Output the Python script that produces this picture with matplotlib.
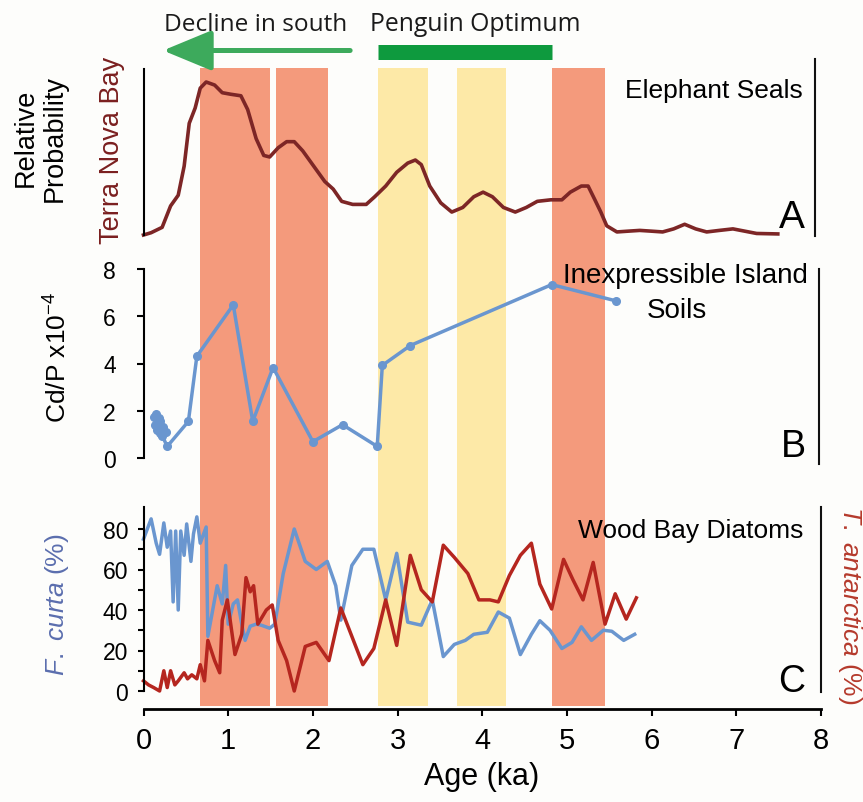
import matplotlib
matplotlib.use("Agg")
import matplotlib.pyplot as plt
from matplotlib.lines import Line2D
from matplotlib.transforms import blended_transform_factory

plt.rcParams['font.family'] = ['Liberation Sans', 'DejaVu Sans']
plt.rcParams['mathtext.fontset'] = 'custom'
plt.rcParams['mathtext.rm'] = 'Liberation Sans'
plt.rcParams['mathtext.it'] = 'Liberation Sans:italic'

# --- datos ---
# bandas (ka)
bandas_rojas = [(0.67, 1.49), (1.57, 2.18), (4.82, 5.45)]
bandas_amarillas = [(2.77, 3.36), (3.70, 4.28)]

# A: Terra Nova Bay, elephant seals (probabilidad relativa)
seal_x = [0.0, 0.09, 0.22, 0.32, 0.41, 0.48, 0.54, 0.61, 0.67, 0.74, 0.84, 0.93, 1.03, 1.15, 1.23,
          1.33, 1.42, 1.49, 1.59, 1.69, 1.78, 1.88, 2.01, 2.14, 2.24, 2.34, 2.47, 2.63, 2.73, 2.86,
          2.99, 3.12, 3.21, 3.28, 3.38, 3.51, 3.64, 3.77, 3.90, 4.01, 4.12, 4.25, 4.39, 4.52, 4.65,
          4.81, 4.94, 5.04, 5.17, 5.25, 5.33, 5.40, 5.47, 5.59, 5.72, 5.86, 6.0, 6.13, 6.26, 6.39,
          6.52, 6.65, 6.8, 6.96, 7.1, 7.24, 7.49]
seal_p = [0.0, 0.015, 0.05, 0.19, 0.26, 0.45, 0.73, 0.83, 0.96, 1.0, 0.98, 0.93, 0.92, 0.91, 0.82,
          0.63, 0.52, 0.51, 0.57, 0.61, 0.61, 0.55, 0.45, 0.35, 0.30, 0.22, 0.20, 0.20, 0.25, 0.32,
          0.41, 0.47, 0.49, 0.46, 0.32, 0.21, 0.15, 0.18, 0.25, 0.28, 0.25, 0.18, 0.15, 0.18, 0.22,
          0.23, 0.23, 0.28, 0.32, 0.32, 0.23, 0.15, 0.06, 0.02, 0.025, 0.03, 0.025, 0.02, 0.04, 0.07,
          0.04, 0.02, 0.03, 0.04, 0.025, 0.01, 0.007]

# B: Inexpressible Island soils, Cd/P x1e-4
soil_x = [0.12, 0.15, 0.18, 0.13, 0.20, 0.16, 0.23, 0.19, 0.26, 0.22, 0.28, 0.53, 0.63, 1.06, 1.29,
          1.53, 2.0, 2.35, 2.76, 2.82, 3.15, 4.82, 5.58]
soil_cdp = [1.75, 1.85, 1.7, 1.4, 1.55, 1.2, 1.3, 1.05, 1.1, 0.95, 0.49, 1.55, 4.31, 6.48, 1.55,
            3.83, 0.69, 1.41, 0.49, 3.92, 4.76, 7.34, 6.65]

# C: Wood Bay diatoms (%)
curta_x = [0.0, 0.09, 0.15, 0.19, 0.24, 0.28, 0.32, 0.35, 0.38, 0.41, 0.44, 0.48, 0.51, 0.56, 0.59,
           0.63, 0.67, 0.74, 0.76, 0.87, 0.93, 0.97, 1.0, 1.06, 1.11, 1.16, 1.2, 1.26, 1.33, 1.39,
           1.49, 1.55, 1.65, 1.78, 1.91, 2.04, 2.17, 2.27, 2.33, 2.46, 2.59, 2.72, 2.86, 2.99, 3.12,
           3.28, 3.41, 3.54, 3.67, 3.80, 3.90, 4.06, 4.19, 4.32, 4.45, 4.58, 4.68, 4.80, 4.94, 5.06,
           5.17, 5.29, 5.43, 5.53, 5.67, 5.80]
curta_pct = [75, 85, 73, 67.5, 83, 71, 79, 44, 79, 40, 79, 67, 82.5, 64, 77.5,
             86, 73, 81, 27, 52, 43, 62, 33, 43, 45, 33, 25, 32, 33, 32.5,
             31, 33, 58, 80, 64, 60, 64, 52, 35, 62, 70, 70, 45, 68, 34,
             32.5, 45, 17, 23, 25, 28, 29, 39, 36, 18, 28, 34.7, 30, 21, 24,
             31.7, 25, 30, 29.5, 25, 28]
antarc_x = [0.0, 0.06, 0.12, 0.19, 0.24, 0.28, 0.32, 0.37, 0.41, 0.48, 0.52, 0.57, 0.63, 0.67, 0.72,
            0.76, 0.84, 0.90, 0.93, 0.99, 1.03, 1.08, 1.16, 1.21, 1.26, 1.30, 1.35, 1.45, 1.52, 1.59,
            1.69, 1.78, 1.91, 2.04, 2.19, 2.33, 2.46, 2.59, 2.72, 2.86, 2.99, 3.15, 3.28, 3.41, 3.54,
            3.67, 3.83, 3.96, 4.09, 4.19, 4.32, 4.45, 4.58, 4.68, 4.82, 4.96, 5.07, 5.19, 5.31, 5.45,
            5.57, 5.70, 5.82]
antarc_pct = [5, 3, 1.7, 0, 10, 1.7, 10, 3, 5, 9, 6, 8, 6, 13, 5,
              25, 15, 9, 35, 45, 33, 18, 28, 56, 49, 52, 33, 40, 42.5, 25,
              15, 0, 22, 24, 15, 41, 27, 13, 21, 45, 22.5, 67, 50, 44, 72,
              66, 58, 45, 45, 44, 57, 67, 73, 52.8, 40.5, 65, 55, 45, 63.5, 33,
              48, 35.5, 46]

# flechas de arriba (ka)
declive = (2.44, 0.23)
optimo = (2.77, 4.82)

# --- figura ---
W, H = 863, 803
fondo = '#fdfdfb'
fig = plt.figure(figsize=(W / 100, H / 100), dpi=100, facecolor=fondo)


def caja(x0, y0, x1, y1):
    # pixeles con y desde arriba
    return [x0 / W, 1 - y1 / H, (x1 - x0) / W, (y1 - y0) / H]


X0, X1 = 143.5, 821

# fondo con las bandas
bg = fig.add_axes(caja(X0, 69, X1, 707))
bg.set_xlim(0, 8)
bg.set_ylim(0, 1)
bg.axis('off')
for a, b in bandas_rojas:
    bg.axvspan(a, b, color='#f49a7c', lw=0)
for a, b in bandas_amarillas:
    bg.axvspan(a, b, color='#fde9a7', lw=0)

# flecha y barra verdes
tr = blended_transform_factory(bg.transData, fig.transFigure)
bg.annotate('', xy=(declive[1], 1 - 51.5 / H), xytext=(declive[0], 1 - 51.5 / H),
            xycoords=tr, textcoords=tr, annotation_clip=False,
            arrowprops=dict(arrowstyle='-|>,head_length=1.5,head_width=0.62', mutation_scale=20,
                            lw=3.6, color='#3daa5c', shrinkA=0, shrinkB=0))
bg.plot(optimo, [1 - 52.5 / H] * 2, transform=tr, lw=10.8, color='#0e9a3e',
        solid_capstyle='butt', clip_on=False)
fig.text(256 / W, 1 - 31 / H, 'Decline in south', family=['Open Sans', 'DejaVu Sans'],
         size=17.6, ha='center', va='baseline', color='#1a1a1a')
fig.text(475 / W, 1 - 31 / H, 'Penguin Optimum', family=['Open Sans', 'DejaVu Sans'],
         size=17.8, ha='center', va='baseline', color='#1a1a1a')

# panel A
axA = fig.add_axes(caja(X0, 70, X1, 236))
axA.set_facecolor('none')
axA.set_xlim(0, 8)
axA.set_ylim(0, 1.085)
for s in ['top', 'right', 'bottom']:
    axA.spines[s].set_visible(False)
axA.spines['left'].set_linewidth(1.5)
axA.set_xticks([])
axA.set_yticks([])
axA.plot(seal_x, seal_p, color='#7d2626', lw=2.6, clip_on=False, solid_joinstyle='round')

# panel B
axB = fig.add_axes(caja(X0, 270, X1, 459))
axB.set_facecolor('none')
axB.set_xlim(0, 8)
axB.set_ylim(0, 8)
for s in ['top', 'right', 'bottom']:
    axB.spines[s].set_visible(False)
axB.spines['left'].set_linewidth(1.5)
axB.set_xticks([])
axB.set_yticks([0, 2, 4, 6, 8])
axB.tick_params(axis='y', direction='out', length=5, width=1.5, pad=15, labelsize=16.5)
axB.plot(soil_x, soil_cdp, '-o', color='#6a96cf', lw=2.5, ms=5.5, clip_on=False)

# panel C
ceroC, escC = 692, 2.025
axC = fig.add_axes(caja(X0, 508, X1, 710))
axC.set_facecolor('none')
axC.set_xlim(0, 8)
axC.set_ylim(-(710 - ceroC) / escC, (ceroC - 508) / escC)
for s in ['top', 'right']:
    axC.spines[s].set_visible(False)
axC.spines['left'].set_linewidth(1.5)
axC.spines['bottom'].set_linewidth(2)
axC.spines['left'].set_bounds(0, (ceroC - 508) / escC)
axC.set_yticks([0, 20, 40, 60, 80])
axC.set_yticks([10, 30, 50, 70], minor=True)
axC.set_xticks(range(0, 9))
axC.tick_params(axis='y', which='both', direction='out', length=4, width=1.5, pad=7, labelsize=16.5)
axC.tick_params(axis='x', direction='out', length=5, width=1.5, pad=7, labelsize=21)
axC.plot(curta_x, curta_pct, color='#6a96cf', lw=2.5, clip_on=False)
axC.plot(antarc_x, antarc_pct, color='#b5261f', lw=2.5, clip_on=False)

# etiquetas
fig.text(26 / W, 1 - 138 / H, 'Relative', rotation=90, size=19.5, ha='center', va='center')
fig.text(55 / W, 1 - 138 / H, 'Probability', rotation=90, size=19.5, ha='center', va='center')
fig.text(112 / W, 1 - 150 / H, 'Terra Nova Bay', rotation=90, size=19.5, ha='center', va='center',
         color='#7a1f1f')
fig.text(58 / W, 1 - 357 / H, r'Cd/P x10$^{-4}$', rotation=90, size=19, ha='center', va='center')
fig.text(57 / W, 1 - 605 / H, r'$\mathit{F.\ curta}$ (%)', rotation=90, size=19, ha='center',
         va='center', color='#5b6eae')
fig.text(850 / W, 1 - 605 / H, r'$\mathit{T.\ antarctica}$ (%)', rotation=270, size=19,
         ha='center', va='center', color='#b53a2c')
fig.text(482 / W, 1 - 785 / H, 'Age (ka)', size=22, ha='center', va='baseline')

fig.text(803 / W, 1 - 98 / H, 'Elephant Seals', size=19, ha='right', va='baseline')
fig.text(808 / W, 1 - 283 / H, 'Inexpressible Island', size=20, ha='right', va='baseline')
fig.text(677 / W, 1 - 318 / H, 'Soils', size=20, ha='center', va='baseline')
fig.text(803 / W, 1 - 538 / H, 'Wood Bay Diatoms', size=19, ha='right', va='baseline')

fig.text(805 / W, 1 - 228 / H, 'A', size=28, ha='right', va='baseline')
fig.text(806 / W, 1 - 457 / H, 'B', size=27, ha='right', va='baseline')
fig.text(805 / W, 1 - 692 / H, 'C', size=27, ha='right', va='baseline')

# lineas verticales a la derecha
for x, y0, y1 in [(815, 60, 237), (819, 270, 465), (821, 508, 693)]:
    fig.add_artist(Line2D([x / W, x / W], [1 - y0 / H, 1 - y1 / H], color='#111111', lw=1.5))

fig.savefig('out.png', dpi=100, facecolor=fondo)
